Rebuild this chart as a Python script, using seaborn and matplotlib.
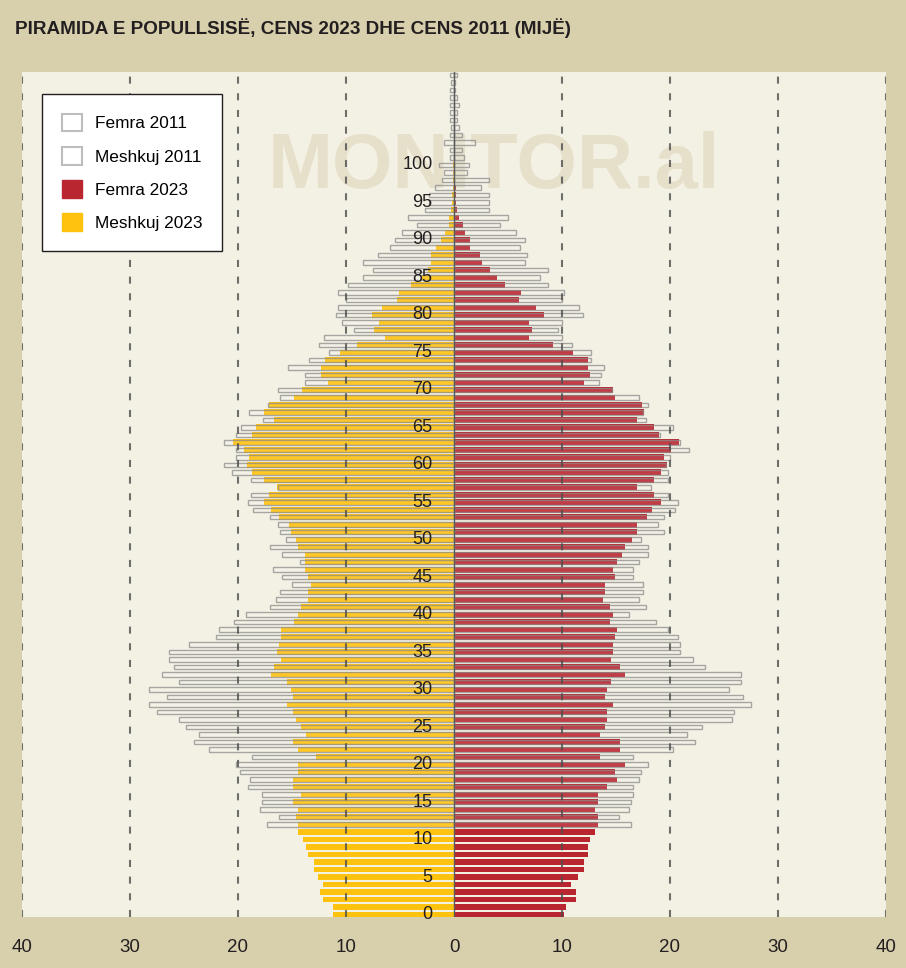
import matplotlib
matplotlib.use("Agg")
import matplotlib.pyplot as plt
from matplotlib.patches import Patch
import pandas as pd
import seaborn as sns

# 2023 census, thousands of people by single year of age (0..100)
ages_2023 = list(range(0, 101))
males_2023 = [
    11.2, 11.2, 12.1, 12.4, 12.1, 12.6, 13.0, 13.0, 13.5, 13.7,
    14.0, 14.4, 14.4, 14.6, 14.4, 14.9, 14.2, 14.9, 14.9, 14.4,
    14.4, 12.8, 14.4, 14.9, 13.7, 14.2, 14.6, 14.9, 15.5, 14.9,
    15.1, 15.5, 16.9, 16.7, 16.0, 16.4, 16.2, 16.0, 16.0, 14.8,
    14.4, 14.2, 13.5, 13.5, 13.2, 13.5, 13.8, 13.8, 13.8, 14.4,
    14.6, 15.1, 15.3, 16.2, 16.9, 17.6, 17.1, 16.4, 17.6, 18.7,
    19.2, 19.0, 19.4, 20.5, 18.7, 18.3, 16.7, 17.6, 17.1, 14.8,
    14.1, 11.7, 12.3, 12.3, 11.9, 10.6, 9.0, 6.4, 7.4, 6.9,
    7.6, 6.7, 5.3, 5.1, 4.0, 3.1, 2.4, 2.1, 2.1, 1.7,
    1.2, 0.8, 0.5, 0.5, 0.3, 0.2, 0.15, 0.1, 0.1, 0.1,
    0.1,
]
females_2023 = [
    10.2, 10.4, 11.3, 11.3, 10.8, 11.5, 12.0, 12.0, 12.4, 12.4,
    12.6, 13.1, 13.3, 13.3, 13.1, 13.3, 13.3, 14.2, 15.1, 14.9,
    15.8, 13.5, 15.4, 15.4, 13.5, 14.0, 14.2, 14.2, 14.7, 14.0,
    14.2, 14.5, 15.8, 15.4, 14.5, 14.7, 14.7, 14.9, 15.1, 14.4,
    14.7, 14.4, 13.8, 14.0, 14.0, 14.9, 14.7, 15.1, 15.6, 15.8,
    16.5, 16.9, 16.9, 17.9, 18.3, 19.2, 18.5, 16.9, 18.5, 19.2,
    19.7, 19.4, 20.1, 20.8, 19.0, 18.5, 16.9, 17.6, 17.4, 14.9,
    14.7, 12.0, 12.6, 12.4, 12.4, 11.0, 9.2, 6.9, 7.2, 6.9,
    8.3, 7.6, 6.0, 6.2, 4.7, 4.0, 3.3, 2.6, 2.4, 1.5,
    1.5, 1.0, 0.8, 0.5, 0.3, 0.15, 0.15, 0.15, 0.1, 0.1,
    0.1,
]

# 2011 census by age (0..100), drawn 12 years higher so cohorts line up
ages_2011 = list(range(0, 101))
cohort_shift = 12
males_2011 = [
    17.3, 16.2, 18.0, 17.8, 17.8, 19.1, 18.9, 19.8, 20.2, 18.7,
    22.7, 24.1, 23.6, 24.8, 25.5, 27.5, 28.2, 26.6, 28.2, 25.5,
    27.0, 25.9, 26.4, 26.4, 24.5, 22.0, 21.8, 20.4, 19.3, 17.0,
    16.5, 16.1, 15.0, 15.9, 16.8, 14.3, 15.9, 17.0, 15.6, 16.1,
    16.3, 17.0, 18.6, 19.1, 18.8, 16.3, 18.8, 20.6, 21.3, 20.2,
    20.2, 21.3, 20.2, 19.7, 17.7, 19.0, 17.2, 16.1, 16.3, 13.8,
    13.8, 15.4, 13.4, 11.6, 12.5, 12.0, 9.3, 10.4, 10.9, 10.7,
    10.0, 10.7, 9.8, 8.4, 7.5, 8.4, 7.0, 5.9, 5.5, 4.8,
    3.4, 4.3, 2.7, 2.3, 2.3, 1.8, 1.1, 0.9, 1.4, 0.4,
    0.4, 0.9, 0.4, 0.3, 0.4, 0.4, 0.4, 0.4, 0.4, 0.3,
    0.4,
]
females_2011 = [
    16.4, 15.3, 16.2, 16.4, 16.6, 16.6, 17.1, 17.3, 18.0, 16.6,
    20.3, 22.3, 21.6, 23.0, 25.7, 25.9, 27.5, 26.8, 25.5, 26.6,
    26.6, 23.2, 22.1, 20.9, 20.9, 20.7, 19.8, 18.7, 16.2, 17.8,
    17.1, 17.5, 17.5, 16.6, 16.6, 17.1, 18.0, 18.0, 17.3, 19.4,
    18.9, 19.4, 20.5, 20.7, 19.8, 18.2, 19.8, 19.8, 19.6, 20.0,
    21.8, 20.9, 19.1, 20.3, 17.8, 17.5, 18.0, 17.1, 14.6, 13.4,
    13.6, 13.9, 12.7, 12.7, 10.9, 10.0, 9.6, 10.0, 11.9, 11.6,
    10.0, 10.2, 8.7, 8.0, 8.7, 6.6, 6.8, 6.1, 6.6, 5.7,
    4.3, 5.0, 3.2, 3.2, 3.2, 2.5, 3.2, 1.2, 1.4, 0.9,
    0.7, 1.9, 0.7, 0.5, 0.25, 0.25, 0.5, 0.25, 0.1, 0.1,
    0.25,
]

age_labels = list(range(0, 101, 5))
x_ticks = [-40, -30, -20, -10, 0, 10, 20, 30, 40]
grid_x = [-40, -30, -20, -10, 10, 20, 30, 40]

title = "PIRAMIDA E POPULLSISË, CENS 2023 DHE CENS 2011 (MIJË)"
legend_labels = ["Femra 2011", "Meshkuj 2011", "Femra 2023", "Meshkuj 2023"]

BEIGE = "#D8D0AD"
CREAM = "#F3F0E4"
RED = "#BA2630"
YELLOW = "#FFC20E"
INK = "#231F20"
FONT = ["Liberation Sans", "DejaVu Sans"]

# tables for seaborn (men on the left as negative numbers)
df23 = pd.DataFrame({"age": ages_2023, "men": males_2023, "women": females_2023})
df23["men"] = -df23["men"]
df11 = pd.DataFrame({"age": [a + cohort_shift for a in ages_2011],
                     "men": males_2011, "women": females_2011})
df11["men"] = -df11["men"]

fig = plt.figure(figsize=(9.06, 9.68), dpi=100, facecolor=BEIGE)
ax = fig.add_axes([22 / 906, 51 / 968, 864 / 906, 845 / 968])
ax.set_facecolor(CREAM)

# watermark behind the bars
ax.text(3.7, 99.7, "MONITOR.al", fontsize=56, fontweight="bold",
        family=FONT, color="#E6E0CA", ha="center", va="center", zorder=0.5)

# 2023 bars
sns.barplot(data=df23, x="men", y="age", orient="h", native_scale=True,
            color=YELLOW, saturation=1, width=0.75, errorbar=None,
            linewidth=0, ax=ax, zorder=2)
sns.barplot(data=df23, x="women", y="age", orient="h", native_scale=True,
            color=RED, saturation=1, width=0.75, errorbar=None,
            linewidth=0, ax=ax, zorder=2)

# 2011 bars, outlined with a faint fill on top
for col in ["men", "women"]:
    sns.barplot(data=df11, x=col, y="age", orient="h", native_scale=True,
                color="white", saturation=1, width=0.6, errorbar=None,
                facecolor=(1, 1, 1, 0.1), edgecolor=(0.55, 0.55, 0.55, 0.75),
                linewidth=1.0, ax=ax, zorder=3)

# dashed grid and the centre line
for gx in grid_x:
    ax.axvline(gx, color="#4d4d4d", lw=1.5, linestyle=(0, (3.4, 4.6)),
               alpha=0.8, zorder=4)
ax.axvline(0, color="#5a5a5a", lw=1.0, zorder=4)

# age labels near the centre
for a in age_labels:
    ax.text(-2.0, a, str(a), ha="right", va="center", fontsize=13,
            family=FONT, color=INK, zorder=6)

ax.set_xlim(-40, 40)
ax.set_ylim(-0.33, 112.4)
ax.set_xticks(x_ticks)
ax.set_xticklabels([str(abs(t)) for t in x_ticks], fontsize=13.5,
                   family=FONT, color=INK)
ax.tick_params(axis="x", length=0, pad=16)
ax.set_yticks([])
ax.set_xlabel("")
ax.set_ylabel("")
for s in ax.spines.values():
    s.set_visible(False)

handles = [
    Patch(facecolor="white", edgecolor="#bdbdbd", linewidth=1.5),
    Patch(facecolor="white", edgecolor="#bdbdbd", linewidth=1.5),
    Patch(facecolor=RED, edgecolor=RED),
    Patch(facecolor=YELLOW, edgecolor=YELLOW),
]
leg = ax.legend(handles, legend_labels, loc="upper left",
                bbox_to_anchor=(42 / 906, 1 - 94 / 968),
                bbox_transform=fig.transFigure, borderaxespad=0,
                frameon=True, fancybox=False, framealpha=1,
                facecolor="white", edgecolor=INK,
                prop={"family": FONT, "size": 12.4},
                handlelength=1.2, handleheight=1.2, handletextpad=0.7,
                labelspacing=0.9, borderpad=1.15)
leg.get_frame().set_linewidth(1.0)
leg.set_zorder(10)

fig.text(15 / 906, 1 - 28 / 968, title, fontsize=13.6, fontweight="bold",
         family=FONT, color=INK, ha="left", va="center")

fig.savefig("out.png", dpi=100, facecolor=BEIGE)
